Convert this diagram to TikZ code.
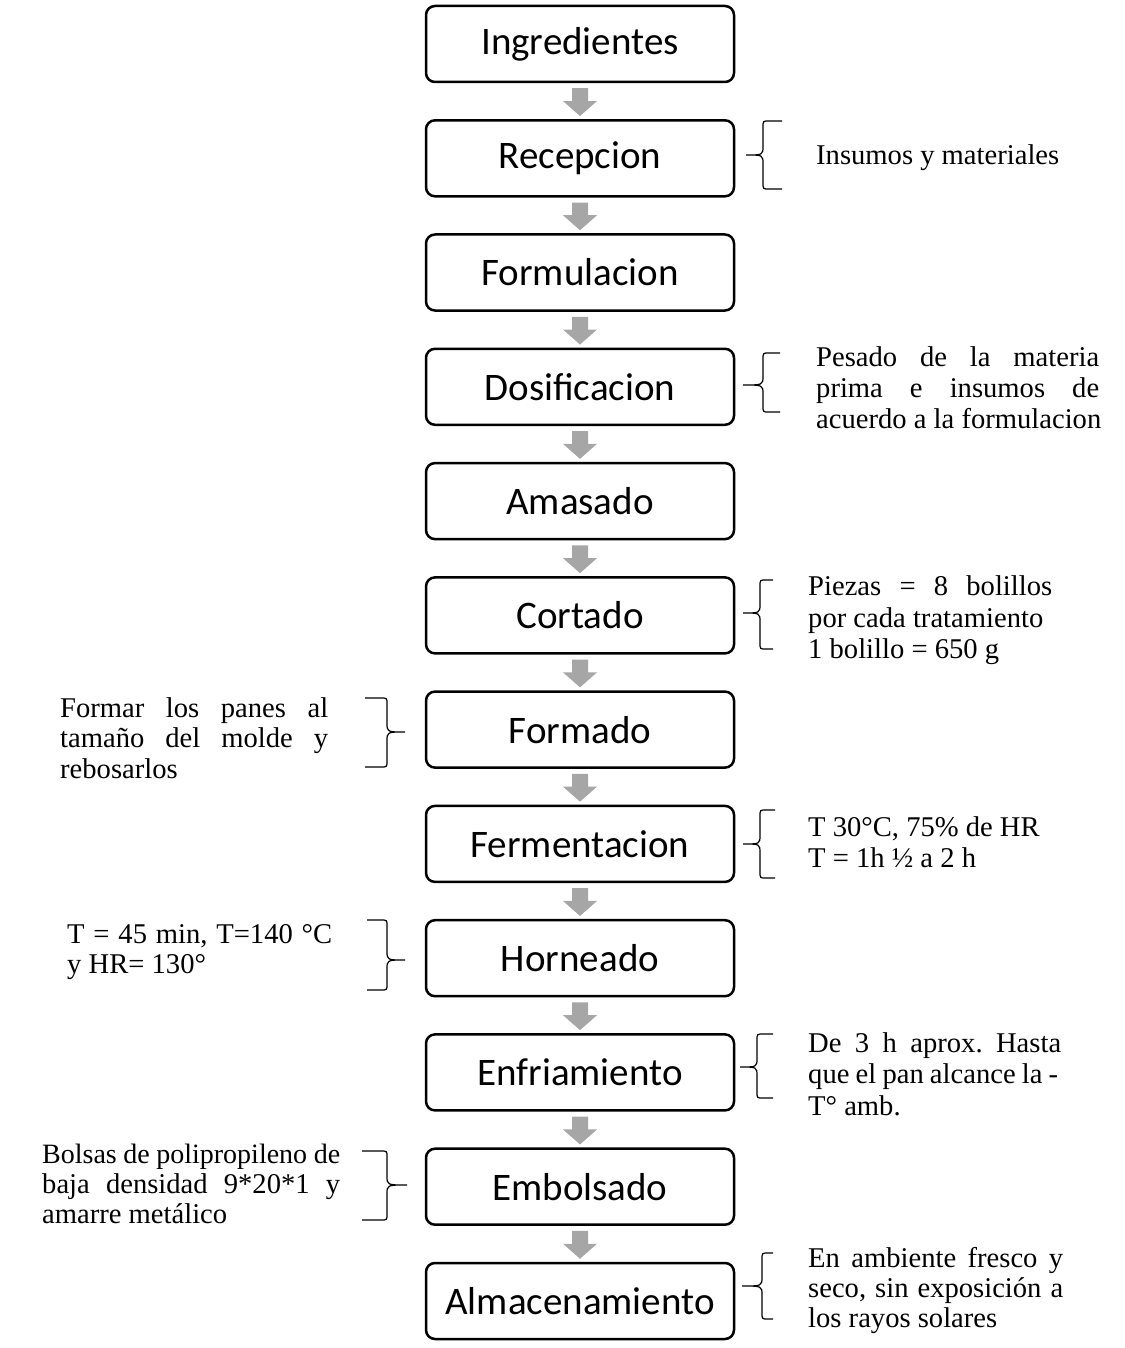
\documentclass[tikz,border=0pt]{standalone}
\usepackage{fontspec}
\setmainfont{Liberation Serif}
\newfontfamily\boxfont{Carlito}
\usetikzlibrary{calc}
\definecolor{arrowgray}{RGB}{166,166,166}
\tikzset{
  stepbox/.style={draw=black, line width=2.5pt, rounded corners=9pt, fill=white,
    minimum width=308pt, minimum height=76pt, inner sep=0pt,
    font=\boxfont\fontsize{39}{47}\selectfont},
  note/.style={anchor=base west, inner sep=0pt, font=\fontsize{28.6}{32}\selectfont\frenchspacing},
  bracestyle/.style={draw=black, line width=1.2pt},
  blockarrow/.style={fill=arrowgray, draw=none}
}
\newcommand\BraceRightSide[6]{% E V T ytop ybot ytip  (opening brace)
  \draw[bracestyle] (#1,#4) -- ({#2+6},#4) .. controls (#2,#4) .. (#2,{#4+6})
    -- (#2,{#6-9}) .. controls (#2,#6) .. (#3,#6) .. controls (#2,#6) .. (#2,{#6+9})
    -- (#2,{#5-6}) .. controls (#2,#5) .. ({#2+6},#5) -- (#1,#5);}
\newcommand\BraceLeftSide[6]{% E V T ytop ybot ytip  (closing brace)
  \draw[bracestyle] (#1,#4) -- ({#2-6},#4) .. controls (#2,#4) .. (#2,{#4+6})
    -- (#2,{#6-9}) .. controls (#2,#6) .. (#3,#6) .. controls (#2,#6) .. (#2,{#6+9})
    -- (#2,{#5-6}) .. controls (#2,#5) .. ({#2-6},#5) -- (#1,#5);}
\newcommand\GrayArrow[2]{%
  \fill[blockarrow] ($(#1.south)+(-8,5)$) -- ($(#1.south)+(8,5)$)
    -- ($(#2.north)+(8,-18)$) -- ($(#2.north)+(17,-18)$) -- ($(#2.north)+(0,-3)$)
    -- ($(#2.north)+(-17,-18)$) -- ($(#2.north)+(-8,-18)$) -- cycle;}
\begin{document}
\begin{tikzpicture}[x=1pt,y=-1pt]
\useasboundingbox (0,0) rectangle (1124,1348);
% process boxes
\node[stepbox] (b1)  at (580,44)     {Ingredientes};
\node[stepbox] (b2)  at (580,158.3)  {Recepcion};
\node[stepbox] (b3)  at (580,272.5)  {Formulacion};
\node[stepbox] (b4)  at (580,386.8)  {Dosificacion};
\node[stepbox] (b5)  at (580,501.1)  {Amasado};
\node[stepbox] (b6)  at (580,615.4)  {Cortado};
\node[stepbox] (b7)  at (580,729.6)  {Formado};
\node[stepbox] (b8)  at (580,843.9)  {Fermentacion};
\node[stepbox] (b9)  at (580,958.2)  {Horneado};
\node[stepbox] (b10) at (580,1072.4) {Enfriamiento};
\node[stepbox] (b11) at (580,1186.7) {Embolsado};
\node[stepbox] (b12) at (580,1301)   {Almacenamiento};
% arrows
\GrayArrow{b1}{b2}
\GrayArrow{b2}{b3}
\GrayArrow{b3}{b4}
\GrayArrow{b4}{b5}
\GrayArrow{b5}{b6}
\GrayArrow{b6}{b7}
\GrayArrow{b7}{b8}
\GrayArrow{b8}{b9}
\GrayArrow{b9}{b10}
\GrayArrow{b10}{b11}
\GrayArrow{b11}{b12}
% braces
\BraceRightSide{782}{763}{746}{121}{189}{155}
\BraceRightSide{780}{763}{743}{353}{412}{385}
\BraceRightSide{773}{760}{743}{580}{649}{613}
\BraceRightSide{775}{760}{743}{810}{878}{844}
\BraceRightSide{773}{757}{740}{1034}{1098}{1067}
\BraceRightSide{773}{762}{742}{1253}{1319}{1286}
\BraceLeftSide{365}{387}{405}{698}{767}{732}
\BraceLeftSide{367}{387}{405}{920}{990}{960}
\BraceLeftSide{362}{387}{407}{1151}{1220}{1185}
% notes right
\node[note] (n2)  at (816,165) {Insumos y materiales};
\node[note] (n4a) at (816,366) {\makebox[283pt][s]{Pesado de la materia}};
\node[note] (n4b) at (816,397) {\makebox[283pt][s]{prima e insumos de}};
\node[note] (n4c) at (816,428) {acuerdo a la formulacion};
\node[note] (n6a) at (808,595) {\makebox[244pt][s]{Piezas = 8 bolillos}};
\node[note] (n6b) at (808,627) {por cada tratamiento};
\node[note] (n6c) at (808,658) {1 bolillo = 650 g};
\node[note] (n8a) at (808,836) {T 30°C, 75\% de HR};
\node[note] (n8b) at (808,867) {T = 1h ½ a 2 h};
\node[note] (n10a) at (808,1052) {\makebox[253pt][s]{De 3 h aprox. Hasta}};
\node[note] (n10b) at (808,1083) {\makebox[250pt][s]{que el pan alcance la -}};
\node[note] (n10c) at (808,1115) {T° amb.};
\node[note] (n12a) at (808,1267) {\makebox[255pt][s]{En ambiente fresco y}};
\node[note] (n12b) at (808,1297) {\makebox[255pt][s]{seco, sin exposición a}};
\node[note] (n12c) at (808,1327) {los rayos solares};
% notes left
\node[note] (n7a) at (60,717) {\makebox[268pt][s]{Formar los panes al}};
\node[note] (n7b) at (60,747) {\makebox[268pt][s]{tamaño del molde y}};
\node[note] (n7c) at (60,778) {rebosarlos};
\node[note] (n9a) at (67,943) {\makebox[265pt][s]{T = 45 min, T=140 °C}};
\node[note] (n9b) at (67,973) {y HR= 130°};
\node[note, font=\fontsize{28}{32}\selectfont] (n11a) at (42,1163) {\makebox[298pt][s]{Bolsas de polipropileno de}};
\node[note] (n11b) at (42,1193) {\makebox[298pt][s]{baja densidad 9*20*1 y}};
\node[note] (n11c) at (42,1223) {amarre metálico};
\end{tikzpicture}
\end{document}
